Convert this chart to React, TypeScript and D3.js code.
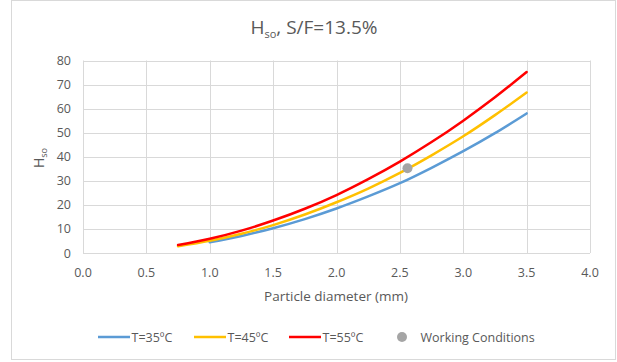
import React from "react";
import * as d3 from "d3";

// particle diameter (mm)
const diam = [0.75, 1.0, 1.25, 1.5, 1.75, 2.0, 2.25, 2.5, 2.75, 3.0, 3.25, 3.5];
// H_so; the 35ºC curve starts at 1.0 mm
const h35 = [null, 4.5, 7.1, 10.3, 14.1, 18.5, 23.5, 29.0, 35.4, 42.3, 49.8, 58.0];
const h45 = [2.8, 5.05, 8.0, 11.6, 16.0, 21.1, 26.8, 33.3, 40.6, 48.5, 57.3, 66.7];
const h55 = [3.3, 5.9, 9.3, 13.5, 18.4, 24.1, 30.7, 38.0, 46.1, 55.0, 64.7, 75.2];
const working = [{ d: 2.56, h: 35.2 }];

const xTicks = [0, 0.5, 1, 1.5, 2, 2.5, 3, 3.5, 4];
const yTicks = [0, 10, 20, 30, 40, 50, 60, 70, 80];

const series = [
  { name: "T=35ºC", color: "#5B9BD5", values: h35 },
  { name: "T=45ºC", color: "#FFC000", values: h45 },
  { name: "T=55ºC", color: "#FF0000", values: h55 },
];

const W = 617;
const H = 362;
const font = "'Open Sans', 'Noto Sans', sans-serif";
const textColor = "#595959";
const gridColor = "#d9d9d9";

export default function App() {
  const x = d3.scaleLinear().domain([0, 4]).range([83, 590]);
  const y = d3.scaleLinear().domain([0, 80]).range([253, 60.5]);

  const line = d3
    .line<[number, number | null]>()
    .defined((p) => p[1] != null)
    .x((p) => x(p[0]))
    .y((p) => y(p[1] as number))
    .curve(d3.curveMonotoneX);

  // legend entries positioned along the bottom
  const legendX = [98, 194, 289];

  return (
    <svg
      width={W}
      height={H}
      style={{ position: "absolute", left: 0, top: 0, background: "#fff" }}
      fontFamily={font}
    >
      <rect x={11.5} y={0.5} width={604} height={359} fill="#fff" stroke={gridColor} />

      {/* title */}
      <text x={314} y={34} textAnchor="middle" fontSize={19} fill={textColor}>
        H<tspan fontSize={11} dy={4}>so</tspan>
        <tspan dy={-4}>, S/F=13.5%</tspan>
      </text>

      {/* grid */}
      {yTicks.map((t) => (
        <line key={"gy" + t} x1={x(0)} x2={x(4)} y1={Math.round(y(t)) + 0.5} y2={Math.round(y(t)) + 0.5} stroke={gridColor} />
      ))}
      {xTicks.map((t) => (
        <line key={"gx" + t} x1={Math.round(x(t)) + 0.5} x2={Math.round(x(t)) + 0.5} y1={y(80)} y2={y(0)} stroke={gridColor} />
      ))}

      {/* tick labels */}
      {yTicks.map((t) => (
        <text key={"ty" + t} x={71} y={y(t) + 4.5} textAnchor="end" fontSize={12.5} fill={textColor}>
          {t}
        </text>
      ))}
      {xTicks.map((t) => (
        <text key={"tx" + t} x={x(t)} y={277} textAnchor="middle" fontSize={12.5} fill={textColor}>
          {t.toFixed(1)}
        </text>
      ))}

      {/* axis titles */}
      <text x={336} y={301} textAnchor="middle" fontSize={13.5} fill={textColor}>
        Particle diameter (mm)
      </text>
      <text transform={`translate(44,158) rotate(-90)`} textAnchor="middle" fontSize={14} fill={textColor}>
        H<tspan fontSize={9} dy={3}>so</tspan>
      </text>

      {/* curves */}
      {series.map((s) => (
        <path
          key={s.name}
          d={line(diam.map((d, i) => [d, s.values[i]] as [number, number | null])) || ""}
          fill="none"
          stroke={s.color}
          strokeWidth={2.5}
          strokeLinecap="round"
        />
      ))}

      {/* working conditions */}
      {working.map((p, i) => (
        <circle key={i} cx={x(p.d)} cy={y(p.h)} r={5} fill="#A5A5A5" />
      ))}

      {/* legend */}
      {series.map((s, i) => (
        <g key={"lg" + s.name} transform={`translate(${legendX[i]},337)`}>
          <line x1={0} x2={32} y1={0} y2={0} stroke={s.color} strokeWidth={2.5} />
          <text x={33.5} y={4.5} fontSize={12.5} fill={textColor}>
            {s.name}
          </text>
        </g>
      ))}
      <circle cx={402} cy={337} r={5} fill="#A5A5A5" />
      <text x={420.5} y={341.5} fontSize={12.5} fill={textColor}>
        Working Conditions
      </text>
    </svg>
  );
}
